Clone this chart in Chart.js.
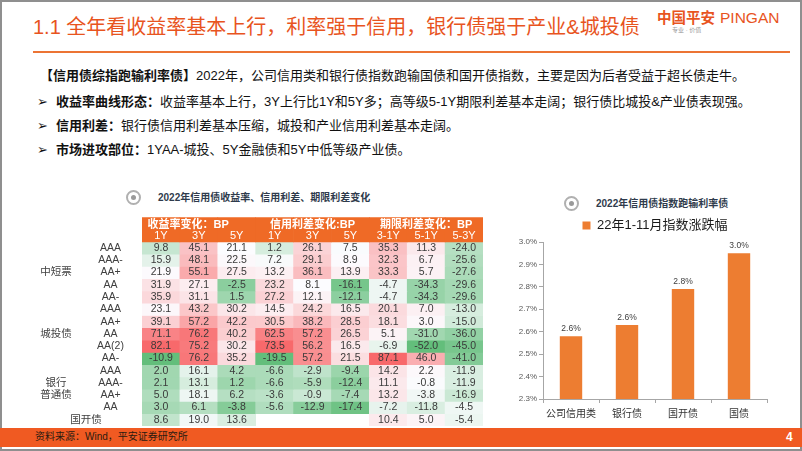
<!DOCTYPE html>
<html><head><meta charset="utf-8">
<script src="https://cdn.jsdelivr.net/npm/chart.js@4.4.1/dist/chart.umd.min.js"></script>
<style>
html,body{margin:0;padding:0;background:#fff;}
#slide{position:relative;width:802px;height:451px;overflow:hidden;background:#fff;font-family:"Liberation Sans","Noto Sans CJK SC",sans-serif;color:#111;}
.abs{position:absolute;white-space:nowrap;}
.frame{position:absolute;left:0;top:0;width:798px;height:447px;border:2px solid #8f8f8f;}
.title{left:33px;top:15px;font-size:20px;line-height:24px;color:#e8541e;}
.logo1{left:657px;top:9px;font-size:14.5px;line-height:18px;color:#e8541e;font-weight:bold;}
.logo2{left:720px;top:9px;font-size:15.5px;line-height:18px;color:#e8541e;}
.logo3{left:672px;top:27px;font-size:6px;line-height:7px;color:#999;}
.rule{left:33px;top:51px;width:757px;height:2px;background:#ec7434;}
.body{font-size:13px;line-height:16px;color:#111;}
.bullet{font-family:"DejaVu Sans";font-size:13px;line-height:16px;}
.ctitle{font-size:10px;line-height:13px;font-weight:bold;color:#2f3b4c;}
.icon{width:11px;height:11px;border:2px solid #b0b0b0;border-radius:50%;}
.icon::after{content:"";position:absolute;left:3px;top:3px;width:5px;height:5px;border-radius:50%;background:#9a9a9a;}
.footer{left:0;top:428px;width:802px;height:19px;background:#f05a22;}
.src{left:35px;top:430px;font-size:10px;line-height:14px;color:#2b1a10;}
.page{left:786px;top:430px;font-size:12px;line-height:14px;color:#fff;font-weight:bold;}
canvas{position:absolute;}
</style></head>
<body>
<div id="slide">
  <div class="frame"></div>
  <div class="abs title">1.1 全年看收益率基本上行，利率强于信用，银行债强于产业&amp;城投债</div>
  <div class="abs logo1">中国平安</div>
  <div class="abs logo2">PINGAN</div>
  <div class="abs logo3">专业 · 价值</div>
  <div class="abs rule"></div>

  <div class="abs body" style="left:40px;top:68px;"><b>【信用债综指跑输利率债】</b>2022年，公司信用类和银行债指数跑输国债和国开债指数，主要是因为后者受益于超长债走牛。</div>
  <div class="abs bullet" style="left:37px;top:94px;">➢</div>
  <div class="abs body" style="left:56px;top:94px;"><b>收益率曲线形态：</b>收益率基本上行，3Y上行比1Y和5Y多；高等级5-1Y期限利差基本走阔；银行债比城投&amp;产业债表现强。</div>
  <div class="abs bullet" style="left:37px;top:118px;">➢</div>
  <div class="abs body" style="left:56px;top:118px;"><b>信用利差：</b>银行债信用利差基本压缩，城投和产业信用利差基本走阔。</div>
  <div class="abs bullet" style="left:37px;top:142px;">➢</div>
  <div class="abs body" style="left:56px;top:142px;"><b>市场进攻部位：</b>1YAA-城投、5Y金融债和5Y中低等级产业债。</div>

  <div class="abs icon" style="left:126px;top:190px;"></div>
  <div class="abs ctitle" style="left:158px;top:191px;">2022年信用债收益率、信用利差、期限利差变化</div>
  <div class="abs icon" style="left:564px;top:196px;"></div>
  <div class="abs ctitle" style="left:596px;top:197px;">2022年信用债指数跑输利率债</div>

  <canvas id="heat" width="495" height="222" style="left:0;top:205px;"></canvas>
  <canvas id="bar" width="302" height="217" style="left:500px;top:211px;"></canvas>

  <div class="abs footer"></div>
  <div class="abs src">资料来源：Wind，平安证券研究所</div>
  <div class="abs page">4</div>
</div>
<script>
// ---------- heatmap data ----------
const groupNames = ['收益率变化：BP', '信用利差变化:BP', '期限利差变化：BP'];
const tenorLabels = ['1Y', '3Y', '5Y', '1Y', '3Y', '5Y', '3-1Y', '5-1Y', '5-3Y'];
const rowLabels = ['AAA', 'AAA-', 'AA+', 'AA', 'AA-', 'AAA', 'AA+', 'AA', 'AA(2)', 'AA-', 'AAA', 'AAA-', 'AA+', 'AA', ''];
const sectorLabels = ['中短票', '城投债', '银行\n普通债', '国开债'];

const yield1Y  = [9.8, 15.9, 21.9, 31.9, 35.9, 23.1, 39.1, 71.1, 82.1, -10.9, 2.0, 2.1, 5.0, 3.0, 8.6];
const yield3Y  = [45.1, 48.1, 55.1, 27.1, 31.1, 43.2, 57.2, 76.2, 75.2, 76.2, 16.1, 13.1, 18.1, 6.1, 19.0];
const yield5Y  = [21.1, 22.5, 27.5, -2.5, 1.5, 30.2, 42.2, 40.2, 30.2, 35.2, 4.2, 1.2, 6.2, -3.8, 13.6];
const spread1Y = [1.2, 7.2, 13.2, 23.2, 27.2, 14.5, 30.5, 62.5, 73.5, -19.5, -6.6, -6.6, -3.6, -5.6, null];
const spread3Y = [26.1, 29.1, 36.1, 8.1, 12.1, 24.2, 38.2, 57.2, 56.2, 57.2, -2.9, -5.9, -0.9, -12.9, null];
const spread5Y = [7.5, 8.9, 13.9, -16.1, -12.1, 16.5, 28.5, 26.5, 16.5, 21.5, -9.4, -12.4, -7.4, -17.4, null];
const term31   = [35.3, 32.3, 33.3, -4.7, -4.7, 20.1, 18.1, 5.1, -6.9, 87.1, 14.2, 11.1, 13.2, -7.2, 10.4];
const term51   = [11.3, 6.7, 5.7, -34.3, -34.3, 7.0, 3.0, -31.0, -52.0, 46.0, 2.2, -0.8, -3.8, -11.8, 5.0];
const term53   = [-24.0, -25.6, -27.6, -29.6, -29.6, -13.0, -15.0, -36.0, -45.0, -41.0, -11.9, -11.9, -16.9, -4.5, -5.4];

// ---------- bar data ----------
const barCategories = ['公司信用类', '银行债', '国开债', '国债'];
const barValues = [2.58, 2.63, 2.79, 2.95];
const barSeriesName = '22年1-11月指数涨跌幅';

// ---------- styling ----------
const columns = [yield1Y, yield3Y, yield5Y, spread1Y, spread3Y, spread5Y, term31, term51, term53];
const colorMid = [21, 8, 0];
const RED = [248, 105, 107], WHITE = [252, 252, 255], GREEN = [99, 190, 123];
const HEADER = '#ef6a26';
const groupOf = c => Math.floor(c / 3);
const groupRange = [0, 1, 2].map(g => {
  const vals = columns.slice(g * 3, g * 3 + 3).flat().filter(v => v != null);
  return {min: Math.min(...vals), max: Math.max(...vals)};
});
function mix(a, b, t) {
  t = Math.max(0, Math.min(1, t));
  return 'rgb(' + a.map((v, i) => Math.round(v + (b[i] - v) * t)).join(',') + ')';
}
function cellColor(v, g) {
  const mid = colorMid[g], r = groupRange[g];
  return v >= mid ? mix(WHITE, RED, (v - mid) / (r.max - mid)) : mix(WHITE, GREEN, (mid - v) / (mid - r.min));
}

const NROWS = rowLabels.length;
const datasets = [{
  data: tenorLabels.map(() => [0, 2]),
  backgroundColor: HEADER
}];
for (let r = 0; r < NROWS; r++) {
  datasets.push({
    data: columns.map(col => col[r] == null ? null : [r + 2, r + 3]),
    backgroundColor: columns.map((col, c) => col[r] == null ? 'rgba(0,0,0,0)' : cellColor(col[r], groupOf(c)))
  });
}
datasets.forEach(d => Object.assign(d, {grouped: false, barPercentage: 1, categoryPercentage: 1, borderWidth: 0}));

const groupLabelPos = [0.72, 4, 7];
const heatText = {
  id: 'heatText',
  afterDatasetsDraw(chart) {
    const {ctx, scales: {x, y}, chartArea} = chart;
    ctx.save();
    ctx.textAlign = 'center';
    ctx.textBaseline = 'middle';
    ctx.fillStyle = '#fff';
    ctx.font = 'bold 11px "Liberation Sans","Noto Sans CJK SC"';
    groupNames.forEach((g, i) => ctx.fillText(g, x.getPixelForValue(groupLabelPos[i]), y.getPixelForValue(0.6)));
    ctx.font = '11px "Liberation Sans","Noto Sans CJK SC"';
    tenorLabels.forEach((t, c) => ctx.fillText(t, x.getPixelForValue(c), y.getPixelForValue(1.55)));
    ctx.fillStyle = '#3a3a3a';
    ctx.font = '10.5px "Liberation Sans"';
    columns.forEach((col, c) => col.forEach((v, r) => {
      if (v == null) return;
      ctx.fillText(v.toFixed(1), x.getPixelForValue(c), y.getPixelForValue(r + 2.5));
    }));
    ctx.fillStyle = '#404040';
    ctx.font = '10.5px "Liberation Sans","Noto Sans CJK SC"';
    const lx = chartArea.left - 31.5;
    rowLabels.forEach((l, r) => ctx.fillText(l, lx, y.getPixelForValue(r + 2.5)));
    const sx = chartArea.left - 86;
    ctx.fillText(sectorLabels[0], sx, y.getPixelForValue(4.5));
    ctx.fillText(sectorLabels[1], sx, y.getPixelForValue(9.5));
    const bank = sectorLabels[2].split('\n');
    ctx.fillText(bank[0], sx, y.getPixelForValue(14) - 6.2);
    ctx.fillText(bank[1], sx, y.getPixelForValue(14) + 6.2);
    ctx.fillText(sectorLabels[3], chartArea.left - 56, y.getPixelForValue(16.5));
    ctx.restore();
  }
};

new Chart(document.getElementById('heat'), {
  type: 'bar',
  data: {labels: tenorLabels, datasets},
  options: {
    responsive: false, animation: false, devicePixelRatio: 1,
    layout: {padding: {left: 142, right: 12, top: 12.3, bottom: 1}},
    plugins: {legend: {display: false}, tooltip: {enabled: false}},
    scales: {
      x: {type: 'category', display: false, offset: true},
      y: {type: 'linear', display: false, min: 0, max: NROWS + 2, reverse: true}
    }
  },
  plugins: [heatText]
});

const barLabels = {
  id: 'barLabels',
  afterDatasetsDraw(chart) {
    const {ctx} = chart;
    const meta = chart.getDatasetMeta(0);
    ctx.save();
    ctx.font = '8.5px "Liberation Sans"';
    ctx.fillStyle = '#404040';
    ctx.textAlign = 'center';
    ctx.textBaseline = 'middle';
    meta.data.forEach((b, i) => ctx.fillText(barValues[i].toFixed(1) + '%', b.x, b.y - 7.5));
    ctx.restore();
  }
};
const legendCenter = {
  id: 'legendCenter',
  afterLayout(chart) {
    if (chart.legend) {
      chart.legend.left = chart.chartArea.left;
      chart.legend.right = chart.chartArea.right;
    }
  }
};

new Chart(document.getElementById('bar'), {
  type: 'bar',
  data: {
    labels: barCategories,
    datasets: [{label: barSeriesName, data: barValues, backgroundColor: '#ed7d31', barPercentage: 0.4, categoryPercentage: 1}]
  },
  options: {
    responsive: false, animation: false, devicePixelRatio: 1,
    layout: {padding: {left: 0, right: 35, top: 0, bottom: 0}},
    plugins: {
      legend: {display: true, position: 'top', labels: {font: {size: 13, family: '"Liberation Sans","Noto Sans CJK SC"'}, color: '#1a1a1a', boxWidth: 8, boxHeight: 8, padding: 8}},
      tooltip: {enabled: false}
    },
    scales: {
      x: {
        grid: {drawOnChartArea: false, tickLength: 4, color: '#a6a6a6'},
        border: {color: '#a6a6a6'},
        ticks: {font: {size: 10, family: '"Noto Sans CJK SC"'}, color: '#333', padding: 4},
        afterFit(s) { s.height = 29; }
      },
      y: {
        min: 2.3, max: 3.0,
        ticks: {stepSize: 0.1, callback: v => v.toFixed(1) + '%', font: {size: 8, family: '"Liberation Sans"'}, color: '#595959', padding: 2},
        grid: {drawOnChartArea: false, tickLength: 4, color: '#a6a6a6'},
        border: {color: '#a6a6a6'},
        afterFit(s) { s.width = 43; }
      }
    }
  },
  plugins: [barLabels, legendCenter]
});
</script>
</body></html>
